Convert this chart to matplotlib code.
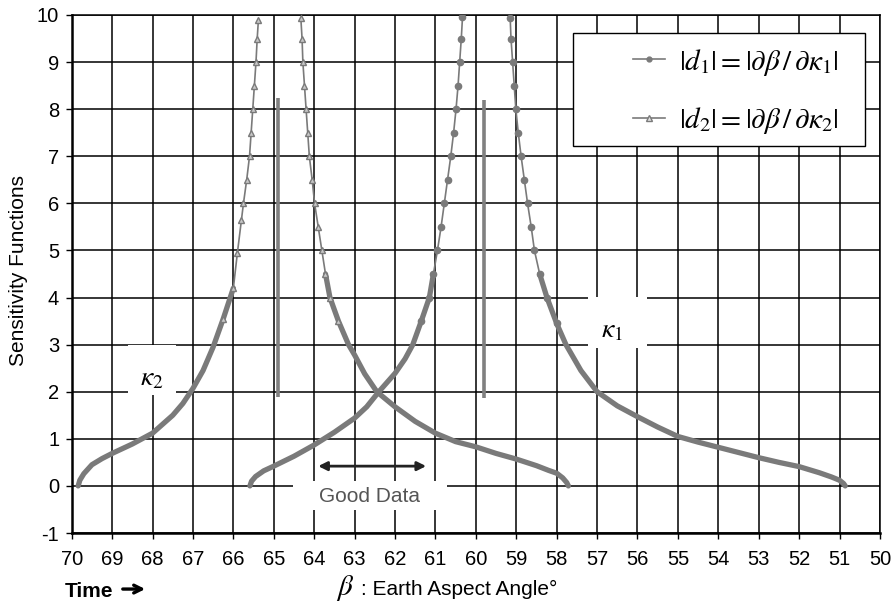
import numpy as np
import matplotlib.pyplot as plt
from matplotlib.lines import Line2D
from matplotlib.patches import Rectangle, FancyArrowPatch

plt.rcParams['font.family'] = ['Liberation Sans', 'DejaVu Sans']
plt.rcParams['mathtext.fontset'] = 'stix'
plt.rcParams['axes.unicode_minus'] = False

# |d1| = |dbeta/dkappa1|  (circles) - branch rising to the kappa1 asymptote
d1_left_x = [65.59, 65.55, 65.45, 65.25, 65.0, 64.5, 64.0, 63.5, 63.0, 62.7, 62.4, 62.0,
             61.75, 61.56, 61.35, 61.15, 61.05, 60.95, 60.86, 60.78, 60.70, 60.62, 60.55,
             60.49, 60.44, 60.40, 60.36, 60.33]
d1_left_y = [0.0, 0.10, 0.20, 0.32, 0.42, 0.63, 0.87, 1.14, 1.44, 1.68, 2.0, 2.39,
             2.70, 3.0, 3.5, 4.0, 4.5, 5.0, 5.5, 6.0, 6.5, 7.0, 7.5,
             8.0, 8.5, 9.0, 9.5, 9.95]
# branch falling from the kappa1 asymptote
d1_right_x = [59.15, 59.13, 59.09, 59.05, 59.01, 58.95, 58.88, 58.80, 58.72, 58.63, 58.55,
              58.42, 58.24, 58.0, 57.77, 57.4, 57.0, 56.5, 56.0, 55.5, 55.0, 54.5, 54.0,
              53.5, 53.0, 52.5, 52.0, 51.5, 51.2, 51.0, 50.9, 50.86]
d1_right_y = [9.93, 9.5, 9.0, 8.5, 8.0, 7.5, 7.0, 6.5, 6.0, 5.5, 5.0,
              4.5, 4.0, 3.45, 3.0, 2.45, 2.0, 1.70, 1.47, 1.25, 1.05, 0.93, 0.82,
              0.71, 0.60, 0.50, 0.41, 0.28, 0.19, 0.12, 0.05, 0.0]

# |d2| = |dbeta/dkappa2|  (triangles)
d2_left_x = [69.84, 69.80, 69.70, 69.50, 69.25, 69.0, 68.5, 68.0, 67.5, 67.25, 67.0,
             66.75, 66.5, 66.25, 66.0, 65.9, 65.8, 65.75, 65.67, 65.60, 65.56, 65.52,
             65.48, 65.44, 65.41, 65.38]
d2_left_y = [0.0, 0.12, 0.26, 0.45, 0.58, 0.69, 0.89, 1.12, 1.50, 1.75, 2.07,
             2.45, 2.95, 3.55, 4.20, 4.95, 5.65, 6.0, 6.5, 7.0, 7.5, 8.0,
             8.5, 9.0, 9.5, 9.9]
d2_right_x = [64.33, 64.30, 64.28, 64.24, 64.20, 64.16, 64.12, 64.05, 63.99, 63.90, 63.81,
              63.72, 63.61, 63.40, 63.15, 63.0, 62.75, 62.45, 62.0, 61.5, 61.0, 60.5,
              60.0, 59.5, 59.0, 58.5, 58.2, 58.0, 57.85, 57.75, 57.71]
d2_right_y = [9.93, 9.5, 9.0, 8.5, 8.0, 7.5, 7.0, 6.5, 6.0, 5.5, 5.0,
              4.5, 4.0, 3.5, 3.0, 2.78, 2.38, 2.0, 1.68, 1.37, 1.12, 0.94,
              0.83, 0.69, 0.57, 0.43, 0.33, 0.27, 0.17, 0.07, 0.0]

# asymptote markers
asym_x = [64.89, 59.80]
asym_y0 = [1.88, 1.86]
asym_y1 = [8.24, 8.20]

# "good data" range arrow
good_from, good_to, good_y = 63.9, 61.23, 0.42

GRAY = '#7a7a7a'

fig = plt.figure(figsize=(8.93, 6.02), dpi=100)
ax = fig.add_axes([0.0803, 0.1146, 0.9051, 0.8605])

ax.set_xlim(70, 50)
ax.set_ylim(-1, 10)
ax.set_xticks(np.arange(50, 71, 1))
ax.set_yticks(np.arange(-1, 11, 1))
ax.set_axisbelow(True)
ax.grid(True, color='black', lw=1.1)
ax.tick_params(axis='both', labelsize=14.5, length=4, width=1, color='black')
ax.tick_params(axis='x', pad=8)
ax.tick_params(axis='y', pad=5)
for s in ['left', 'bottom']:
    ax.spines[s].set_linewidth(1.8)
for s in ['top', 'right']:
    ax.spines[s].set_linewidth(1.1)


def draw(xs, ys, marker, mfc):
    xs = np.array(xs)
    ys = np.array(ys)
    low = np.where(ys <= 4.5, ys, np.nan)
    ax.plot(xs, low, color=GRAY, lw=3.8, solid_capstyle='round', zorder=3)
    ax.plot(xs, ys, color=GRAY, lw=1.2, zorder=3)
    up = ys > 3.0
    ax.plot(xs[up], ys[up], ls='none', marker=marker, ms=4.5, mfc=mfc,
            mec=GRAY, mew=1.0, zorder=3)


draw(d1_left_x, d1_left_y, 'o', GRAY)
draw(d1_right_x, d1_right_y, 'o', GRAY)
draw(d2_left_x, d2_left_y, '^', '#c8c8c8')
draw(d2_right_x, d2_right_y, '^', '#c8c8c8')

ax.vlines(asym_x, asym_y0, asym_y1, color='#808080', lw=2.6, zorder=3)

# white label boxes hiding the grid
ax.add_patch(Rectangle((68.61, 1.93), -1.19, 1.06, fc='white', ec='none', zorder=1))
ax.add_patch(Rectangle((57.22, 2.93), -1.46, 1.08, fc='white', ec='none', zorder=1))
ax.add_patch(Rectangle((64.52, -0.51), -3.81, 0.62, fc='white', ec='none', zorder=1))

ax.text(68.01, 2.29, r'$\kappa_2$', fontsize=20, ha='center', va='center', zorder=4)
ax.text(56.62, 3.30, r'$\kappa_1$', fontsize=20, ha='center', va='center', zorder=4)
ax.text(62.62, -0.23, 'Good Data', fontsize=15, color='#555555',
        ha='center', va='center', zorder=4)
ax.annotate('', xy=(good_to, good_y), xytext=(good_from, good_y),
            arrowprops=dict(arrowstyle='<|-|>', color='#222222', lw=2.0,
                            mutation_scale=13, shrinkA=0, shrinkB=0), zorder=4)

# legend
ax.add_patch(Rectangle((0.620, 0.747), 0.361, 0.218, transform=ax.transAxes,
                       fc='white', ec='black', lw=1.0, zorder=5))
h1 = Line2D([], [], color=GRAY, lw=1.2, marker='o', ms=3.5, mfc=GRAY, mec=GRAY)
h2 = Line2D([], [], color=GRAY, lw=1.2, marker='^', ms=4.5, mfc='#e0e0e0', mec=GRAY)
leg = ax.legend([h1, h2],
                [r'$|d_1| = |\partial\beta\,/\,\partial\kappa_1|$',
                 r'$|d_2| = |\partial\beta\,/\,\partial\kappa_2|$'],
                loc='upper left', bbox_to_anchor=(0.694, 0.939), frameon=False,
                fontsize=21, handlelength=1.1, handletextpad=0.5, labelspacing=0.95,
                borderpad=0, borderaxespad=0)
leg.set_zorder(6)

# axis labels
fig.text(19 / 893, 1 - 271 / 602, 'Sensitivity Functions', rotation=90,
         fontsize=15, ha='center', va='center')
fig.text(336 / 893, 0.0116, r'$\beta$', fontsize=21, ha='left', va='baseline')
fig.text(361 / 893, 0.0116, ': Earth Aspect Angle°', fontsize=15, ha='left', va='baseline')
fig.text(65 / 893, 0.0088, 'Time', fontsize=15, weight='bold', ha='left', va='baseline')
fig.add_artist(FancyArrowPatch(
    (120 / 893, 0.0215), (148 / 893, 0.0215), transform=fig.transFigure,
    arrowstyle='->', mutation_scale=14, lw=2.4, color='black'))

fig.savefig('out.png', dpi=100)
